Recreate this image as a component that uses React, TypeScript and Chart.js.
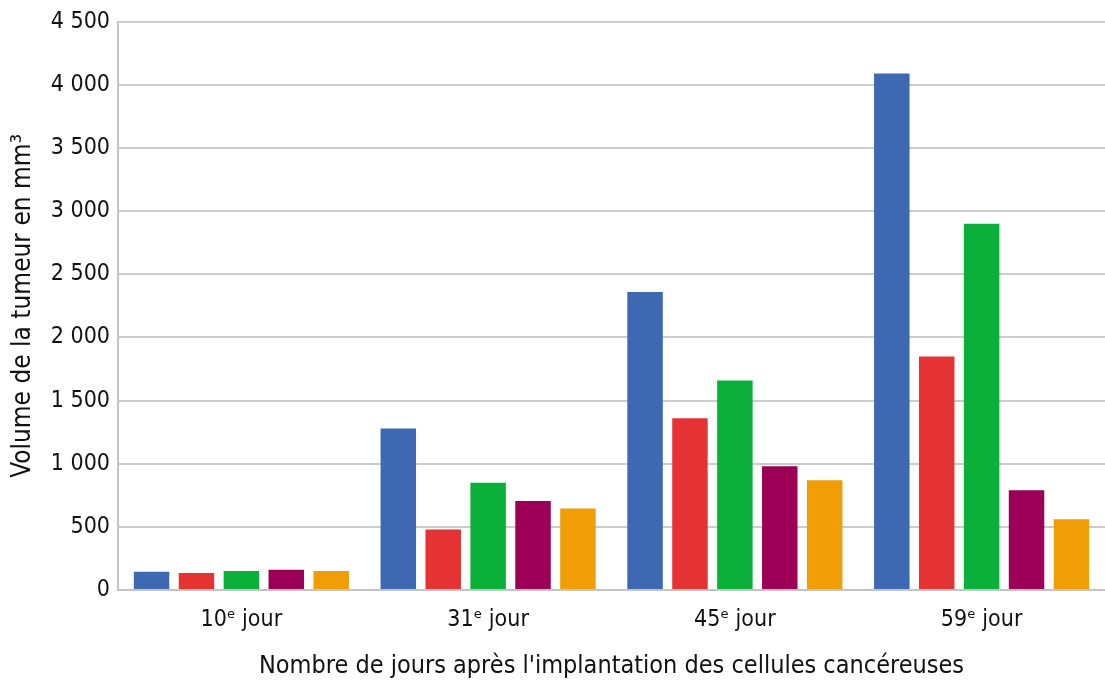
import React, { useEffect, useRef } from "react";
import { Chart, registerables } from "chart.js";

Chart.register(...registerables);

const categories = ["10ᵉ jour", "31ᵉ jour", "45ᵉ jour", "59ᵉ jour"];
const seriesBlue = [145, 1280, 2360, 4090];
const seriesRed = [135, 480, 1360, 1850];
const seriesGreen = [150, 850, 1660, 2900];
const seriesPurple = [160, 705, 980, 790];
const seriesOrange = [150, 645, 870, 560];
const yTicks = [0, 500, 1000, 1500, 2000, 2500, 3000, 3500, 4000, 4500];

const FONT = '"DejaVu Sans Condensed", "Liberation Sans Narrow", "Roboto", sans-serif';

function fmt(v: number): string {
  const s = String(Math.round(v));
  return s.length > 3 ? s.slice(0, s.length - 3) + " " + s.slice(-3) : s;
}

export default function App() {
  const ref = useRef<HTMLCanvasElement | null>(null);
  useEffect(() => {
    document.body.style.margin = "0";
    if (!ref.current) return;
    const chart = new Chart(ref.current, {
      type: "bar",
      data: {
        labels: categories,
        datasets: [
          { label: "A", data: seriesBlue, backgroundColor: "#3e69b2" },
          { label: "B", data: seriesRed, backgroundColor: "#e53333" },
          { label: "C", data: seriesGreen, backgroundColor: "#0bb03a" },
          { label: "D", data: seriesPurple, backgroundColor: "#9c0056" },
          { label: "E", data: seriesOrange, backgroundColor: "#f09d06" },
        ],
      },
      options: {
        animation: false,
        responsive: true,
        maintainAspectRatio: false,
        layout: { padding: { top: 12, right: 0, left: 0, bottom: 0 } },
        plugins: { legend: { display: false }, tooltip: { enabled: false } },
        datasets: { bar: { categoryPercentage: 0.91, barPercentage: 0.79 } },
        scales: {
          x: {
            grid: { display: false },
            border: { display: true, color: "#c4c4c4", width: 2 },
            ticks: {
              color: "#111111",
              font: { family: FONT, size: 23 },
              padding: 8,
            },
            title: {
              display: true,
              text: "Nombre de jours après l'implantation des cellules cancéreuses",
              color: "#111111",
              font: { family: FONT, size: 25 },
              padding: { top: 6, bottom: 0 },
            },
            afterFit: (s: any) => {
              s.height = 681 - 590;
            },
          },
          y: {
            min: 0,
            max: 4500,
            afterBuildTicks: (s: any) => {
              s.ticks = yTicks.map((v) => ({ value: v }));
            },
            grid: { color: "#cccccc", lineWidth: 2, drawTicks: false },
            border: { display: true, color: "#c4c4c4", width: 2 },
            ticks: {
              color: "#111111",
              font: { family: FONT, size: 23 },
              padding: 8,
              callback: (v: any) => fmt(Number(v)),
            },
            title: {
              display: true,
              text: "Volume de la tumeur en mm³",
              color: "#111111",
              font: { family: FONT, size: 26 },
              padding: { top: 8, bottom: 0 },
            },
            afterFit: (s: any) => {
              s.width = 118;
            },
          },
        },
      },
    });
    return () => chart.destroy();
  }, []);
  return (
    <div style={{ width: 1105, height: 681, position: "relative" }}>
      <canvas ref={ref} />
    </div>
  );
}
